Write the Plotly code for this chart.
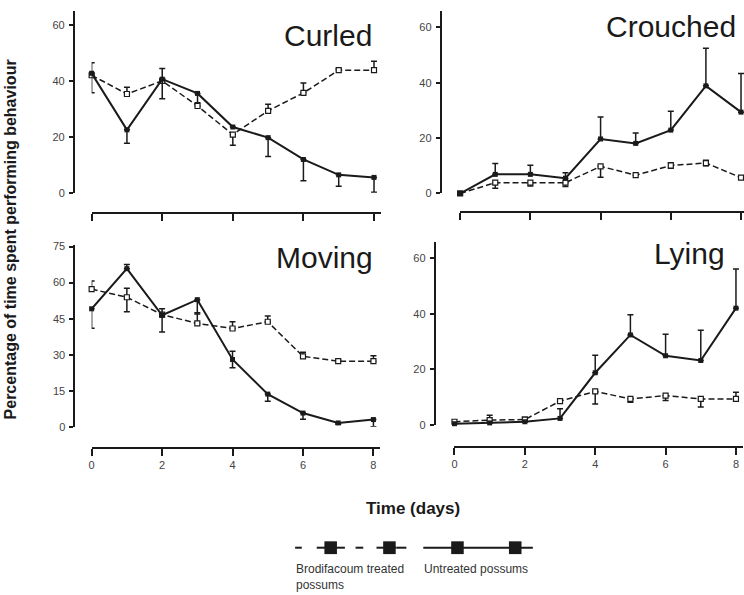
import plotly.graph_objects as go

W, H = 744, 595

days = [0, 1, 2, 3, 4, 5, 6, 7, 8]
x_ticks = [0, 2, 4, 6, 8]

# Curled
curled_treated = [42, 35.3, 40, 31, 20.8, 29.3, 35.7, 43.8, 43.8]
curled_treated_plus = [4.5, 2.4, 4.4, 0, 0, 2.3, 3.5, 0.5, 3.2]
curled_treated_minus = [0, 0, 0, 0, 3.8, 0, 0, 0, 0]
curled_untreated = [42.7, 22.5, 40.6, 35.5, 23.5, 19.7, 11.9, 6.4, 5.5]
curled_untreated_plus = [0, 0, 0, 0, 0, 0, 0, 0, 0]
curled_untreated_minus = [7, 4.8, 7, 3.3, 0, 6.7, 7.6, 4.1, 5.3]

# Crouched
crouched_treated = [0, 3.9, 3.9, 3.9, 9.8, 6.6, 10.1, 11, 5.7]
crouched_treated_plus = [0, 0, 0, 0, 0, 0, 1, 1, 0]
crouched_treated_minus = [0, 2, 1.2, 1.4, 3.9, 0, 1, 1, 0]
crouched_untreated = [0, 6.9, 6.9, 5.5, 19.7, 18.1, 22.9, 38.9, 29.4]
crouched_untreated_plus = [0, 3.9, 3.3, 2, 7.9, 3.8, 6.8, 13.6, 14]
crouched_untreated_minus = [0, 0, 0, 0, 0, 0, 0, 0, 0]

# Moving
moving_treated = [57.3, 53.9, 46.7, 43, 40.9, 43.7, 29.3, 27.3, 27.3]
moving_treated_plus = [3.4, 3.7, 0, 4.5, 2.8, 2.4, 1.7, 0.5, 2.3]
moving_treated_minus = [0, 6, 0, 0, 0, 0, 0, 0, 0]
moving_untreated = [49.1, 65.8, 46.4, 52.9, 28, 13.6, 5.7, 1.6, 3]
moving_untreated_plus = [0, 1.7, 2.7, 0, 3.4, 0, 0, 0, 0]
moving_untreated_minus = [8.1, 0, 7, 6, 3.4, 3, 2.6, 0.5, 3]

# Lying
lying_treated = [1.2, 1.8, 2, 8.6, 12.1, 9.4, 10.6, 9.4, 9.4]
lying_treated_plus = [0, 1.7, 0.8, 0, 0, 0, 0, 0, 2.4]
lying_treated_minus = [0, 0, 0, 0, 4.5, 1.2, 1.8, 2.9, 0.5]
lying_untreated = [0.5, 0.8, 1.2, 2.4, 18.8, 32.4, 24.9, 23.2, 42]
lying_untreated_plus = [0, 0, 0, 3.5, 6.3, 7.2, 7.7, 10.9, 14.1]
lying_untreated_minus = [0, 0, 0, 0, 0, 0, 0, 0, 0]

panel_titles = ["Curled", "Crouched", "Moving", "Lying"]
y_tick_sets = [[0, 20, 40, 60], [0, 20, 40, 60], [0, 15, 30, 45, 60, 75], [0, 20, 40, 60]]
legend_labels = ["Brodifacoum treated<br>possums", "Untreated possums"]

INK = "#1a1a1a"
TICK_FONT = dict(family="Liberation Sans, Arial, sans-serif", size=11, color="#444444")


def px_x(p):
    return p / W


def px_y(p):
    return 1 - p / H


# panel geometry (pixel positions)
panels = [
    dict(tr=(curled_treated, curled_treated_plus, curled_treated_minus),
         un=(curled_untreated, curled_untreated_plus, curled_untreated_minus),
         xdom=(89, 379.6), xrange=8.2, ydom=(192, 7), yrange=65,
         yaxpos=71, xaxpos=213, xlabels=False, title_right=373, title_y=32.5),
    dict(tr=(crouched_treated, crouched_treated_plus, crouched_treated_minus),
         un=(crouched_untreated, crouched_untreated_plus, crouched_untreated_minus),
         xdom=(459, 744), xrange=8.085, ydom=(192.7, 7), yrange=66,
         yaxpos=439.3, xaxpos=212, xlabels=False, title_right=738, title_y=22.8),
    dict(tr=(moving_treated, moving_treated_plus, moving_treated_minus),
         un=(moving_untreated, moving_untreated_plus, moving_untreated_minus),
         xdom=(89, 379), xrange=8.2, ydom=(430, 245), yrange=75.7,
         yaxpos=71.5, xaxpos=451.5, xlabels=True, title_right=373.3, title_y=258.3),
    dict(tr=(lying_treated, lying_treated_plus, lying_treated_minus),
         un=(lying_untreated, lying_untreated_plus, lying_untreated_minus),
         xdom=(453.3, 743), xrange=8.2, ydom=(428.3, 241.7), yrange=65.9,
         yaxpos=433.3, xaxpos=450.7, xlabels=True, title_right=726.7, title_y=254),
]

fig = go.Figure()
layout = {}
annotations = []

for i, p in enumerate(panels):
    n = "" if i == 0 else str(i + 1)
    xa, ya = "x" + n, "y" + n
    tv, tp, tm = p["tr"]
    uv, up, um = p["un"]
    fig.add_trace(go.Scatter(
        x=days, y=tv, xaxis=xa, yaxis=ya, mode="lines+markers", cliponaxis=False,
        line=dict(color=INK, width=1.5, dash="6px,3px"),
        marker=dict(symbol="square", size=5, color="white", line=dict(color=INK, width=1.2)),
        error_y=dict(type="data", array=tp, arrayminus=tm, symmetric=False,
                     color=INK, thickness=1.5, width=3),
        name="Brodifacoum treated possums", showlegend=False))
    fig.add_trace(go.Scatter(
        x=days, y=uv, xaxis=xa, yaxis=ya, mode="lines+markers", cliponaxis=False,
        line=dict(color=INK, width=2),
        marker=dict(symbol="square", size=5, color=INK),
        error_y=dict(type="data", array=up, arrayminus=um, symmetric=False,
                     color=INK, thickness=1.5, width=3),
        name="Untreated possums", showlegend=False))

    layout["xaxis" + n] = dict(
        domain=[px_x(p["xdom"][0]), px_x(p["xdom"][1])], range=[0, p["xrange"]],
        anchor="free", position=px_y(p["xaxpos"]), side="bottom",
        showgrid=False, zeroline=False, showline=True, linecolor=INK, linewidth=1.5,
        ticks="outside", ticklen=7, tickwidth=1.5, tickcolor=INK,
        tickvals=x_ticks, ticktext=[str(v) for v in x_ticks] if p["xlabels"] else [""] * 5,
        showticklabels=p["xlabels"], tickfont=TICK_FONT, fixedrange=True)
    layout["yaxis" + n] = dict(
        domain=[px_y(p["ydom"][0]), px_y(p["ydom"][1])], range=[0, p["yrange"]],
        anchor="free", position=px_x(p["yaxpos"]), side="left",
        showgrid=False, zeroline=False, showline=True, linecolor=INK, linewidth=1.5,
        ticks="outside", ticklen=4, tickwidth=1.5, tickcolor=INK,
        tickvals=y_tick_sets[i], tickfont=TICK_FONT, ticklabelstandoff=2, fixedrange=True)
    annotations.append(dict(
        text=panel_titles[i], xref="paper", yref="paper",
        x=px_x(p["title_right"]), y=px_y(p["title_y"]), xanchor="right", yanchor="middle",
        showarrow=False, font=dict(family="Liberation Sans, Arial, sans-serif", size=30, color=INK)))

# axis titles
annotations.append(dict(
    text="<b>Percentage of time spent performing behaviour</b>", xref="paper", yref="paper",
    x=px_x(8), y=px_y(239.5), textangle=-90, xanchor="center", yanchor="middle",
    showarrow=False, font=dict(family="Liberation Sans, Arial, sans-serif", size=16, color=INK)))
annotations.append(dict(
    text="<b>Time (days)</b>", xref="paper", yref="paper",
    x=px_x(412), y=px_y(513), xanchor="center", yanchor="middle",
    showarrow=False, font=dict(family="Liberation Sans, Arial, sans-serif", size=17, color=INK)))

# custom legend
shapes = []
ly = px_y(553)
for a, b in [(293.3, 300), (315, 335), (335, 343.3), (354, 361.7), (375, 395), (395, 405)]:
    shapes.append(dict(type="line", xref="paper", yref="paper", x0=px_x(a), x1=px_x(b),
                       y0=ly, y1=ly, line=dict(color=INK, width=2)))
shapes.append(dict(type="line", xref="paper", yref="paper", x0=px_x(422), x1=px_x(532),
                   y0=ly, y1=ly, line=dict(color=INK, width=2)))
for cx in [329, 388, 456.3, 514.3]:
    shapes.append(dict(type="rect", xref="paper", yref="paper",
                       x0=px_x(cx - 6.3), x1=px_x(cx + 6.3), y0=px_y(559.5), y1=px_y(546.5),
                       fillcolor=INK, line=dict(width=0)))
annotations.append(dict(
    text=legend_labels[0], xref="paper", yref="paper", x=px_x(292), y=px_y(566),
    xanchor="left", yanchor="top", align="left", showarrow=False,
    font=dict(family="Liberation Sans, Arial, sans-serif", size=12, color="#333333")))
annotations.append(dict(
    text=legend_labels[1], xref="paper", yref="paper", x=px_x(421), y=px_y(566),
    xanchor="left", yanchor="top", align="left", showarrow=False,
    font=dict(family="Liberation Sans, Arial, sans-serif", size=12, color="#333333")))

fig.update_layout(
    width=W, height=H, margin=dict(l=0, r=0, t=0, b=0),
    paper_bgcolor="white", plot_bgcolor="white",
    showlegend=False, annotations=annotations, shapes=shapes, **layout)

fig.write_html("out.html", config={"displayModeBar": False},
               post_script="document.body.style.margin='0';document.body.style.overflow='hidden';")
